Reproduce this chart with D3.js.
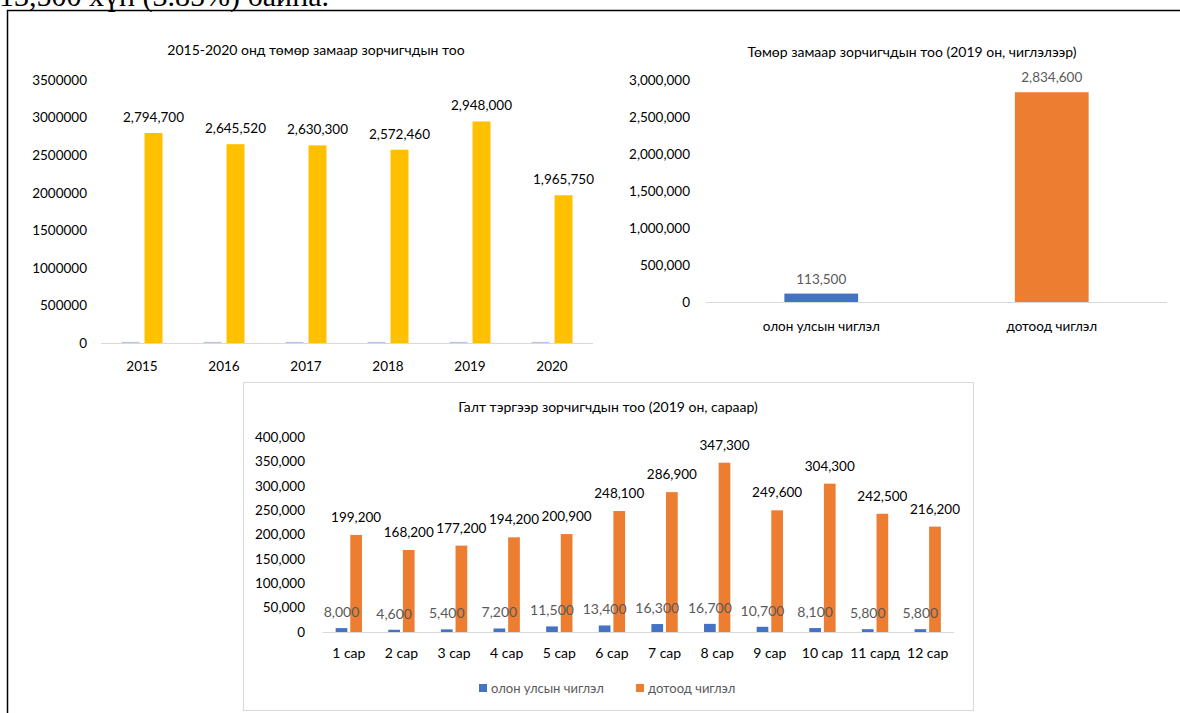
<!DOCTYPE html>
<html>
<head>
<meta charset="utf-8">
<script src="https://cdn.jsdelivr.net/npm/d3@7"></script>
<style>
  body { margin: 0; background: #fff; }
  svg text { font-family: Lato, "Open Sans", sans-serif; }
</style>
</head>
<body>
<div id="page"></div>
<script>
// data
const years = ['2015', '2016', '2017', '2018', '2019', '2020'];
const yearSeries = [2015, 2016, 2017, 2018, 2019, 2020]; // the faint blue series
const yearPassengers = [2794700, 2645520, 2630300, 2572460, 2948000, 1965750];
const yearTicks = [0, 500000, 1000000, 1500000, 2000000, 2500000, 3000000, 3500000];

const directions = ['олон улсын чиглэл', 'дотоод чиглэл'];
const directionValues = [113500, 2834600];
const directionTicks = [0, 500000, 1000000, 1500000, 2000000, 2500000, 3000000];

const months = ['1 сар', '2 сар', '3 сар', '4 сар', '5 сар', '6 сар', '7 сар', '8 сар', '9 сар', '10 сар', '11 сард', '12 сар'];
const intlMonthly = [8000, 4600, 5400, 7200, 11500, 13400, 16300, 16700, 10700, 8100, 5800, 5800];
const domesticMonthly = [199200, 168200, 177200, 194200, 200900, 248100, 286900, 347300, 249600, 304300, 242500, 216200];
const monthTicks = [0, 50000, 100000, 150000, 200000, 250000, 300000, 350000, 400000];
const seriesNames = ['олон улсын чиглэл', 'дотоод чиглэл'];

const blue = '#4472C4';
const orange = '#ED7D31';
const gridGrey = '#D9D9D9';
const labelGrey = '#595959';

const width = 1180;
const height = 713;

const svg = d3.select('#page')
  .append('svg')
  .attr('width', width)
  .attr('height', height);

// text of the document above the frame, cut by the top edge
svg.append('text')
  .attr('x', -1)
  .attr('y', 6)
  .style('font-family', '"Liberation Serif", "Times New Roman", serif')
  .style('font-size', '30px')
  .text('13,500 хүн (3.85%) байна.');

// frame
svg.append('path')
  .attr('d', `M7.5,${height} V10.5 H${width}`)
  .attr('fill', 'none')
  .attr('stroke', '#000')
  .attr('stroke-width', 1.5);

function yAxis(g, y, ticks, fmt, x, size) {
  const ax = g.append('g')
    .attr('transform', `translate(${x},0)`)
    .call(d3.axisLeft(y).tickValues(ticks).tickFormat(fmt).tickSize(0).tickPadding(0));
  ax.select('.domain').remove();
  ax.selectAll('text')
    .style('font-family', 'Lato, sans-serif')
    .style('font-size', size)
    .attr('fill', '#000');
}

function xAxis(g, x, yPos, size) {
  const ax = g.append('g')
    .attr('transform', `translate(0,${yPos})`)
    .call(d3.axisBottom(x).tickSize(0).tickPadding(0));
  ax.select('.domain').remove();
  ax.selectAll('text')
    .attr('dy', '0.35em')
    .style('font-family', 'Lato, sans-serif')
    .style('font-size', size)
    .attr('fill', '#000');
}

function baseline(g, x, y0) {
  g.append('line')
    .attr('x1', x.range()[0])
    .attr('x2', x.range()[1])
    .attr('y1', y0 + 0.5)
    .attr('y2', y0 + 0.5)
    .attr('stroke', gridGrey);
}

// chart 1: 2015-2020
{
  const g = svg.append('g');
  const x = d3.scaleBand().domain(years).range([101, 593]).paddingInner(0.5).paddingOuter(0.25);
  const xs = d3.scaleBand().domain([0, 1]).range([0, x.bandwidth()]).paddingInner(0.22);
  const y = d3.scaleLinear().domain([0, 3500000]).range([343, 80]);

  g.append('text')
    .attr('x', 316).attr('y', 55)
    .attr('text-anchor', 'middle')
    .style('font-size', '14px')
    .text('2015-2020 онд төмөр замаар зорчигчдын тоо');

  yAxis(g, y, yearTicks, d3.format('d'), 87, '13.5px');
  baseline(g, x, y(0));

  g.selectAll('.faint')
    .data(yearSeries)
    .enter().append('rect')
    .attr('x', (d, i) => x(years[i]) + xs(0))
    .attr('y', d => y(d) - 1)
    .attr('width', xs.bandwidth())
    .attr('height', d => y(0) - y(d) + 1)
    .attr('fill', '#B4C7E7');

  g.selectAll('.total')
    .data(yearPassengers)
    .enter().append('rect')
    .attr('x', (d, i) => x(years[i]) + xs(1))
    .attr('y', d => y(d))
    .attr('width', xs.bandwidth())
    .attr('height', d => y(0) - y(d))
    .attr('fill', '#FFC000');

  g.selectAll('.total-label')
    .data(yearPassengers)
    .enter().append('text')
    .attr('x', (d, i) => x(years[i]) + xs(1) + xs.bandwidth() / 2)
    .attr('y', d => y(d) - 11)
    .attr('text-anchor', 'middle')
    .style('font-size', '13.5px')
    .text(d3.format(','));

  xAxis(g, x, 366, '13.5px');
}

// chart 2: 2019 by direction
{
  const g = svg.append('g');
  const x = d3.scaleBand().domain(directions).range([706, 1167]).paddingInner(0.68).paddingOuter(0.34);
  const y = d3.scaleLinear().domain([0, 3000000]).range([302, 80]);
  const colors = [blue, orange];

  g.append('text')
    .attr('x', 912).attr('y', 57)
    .attr('text-anchor', 'middle')
    .style('font-size', '14px')
    .text('Төмөр замаар зорчигчдын тоо (2019 он, чиглэлээр)');

  yAxis(g, y, directionTicks, d3.format(','), 690, '13.5px');

  g.selectAll('.dir')
    .data(directionValues)
    .enter().append('rect')
    .attr('x', (d, i) => x(directions[i]))
    .attr('y', d => y(d))
    .attr('width', x.bandwidth())
    .attr('height', d => y(0) - y(d))
    .attr('fill', (d, i) => colors[i]);

  baseline(g, x, y(0));

  g.selectAll('.dir-label')
    .data(directionValues)
    .enter().append('text')
    .attr('x', (d, i) => x(directions[i]) + x.bandwidth() / 2)
    .attr('y', d => y(d) - 10)
    .attr('text-anchor', 'middle')
    .attr('fill', labelGrey)
    .style('font-size', '13.5px')
    .text(d3.format(','));

  xAxis(g, x, 326, '13.5px');
}

// chart 3: 2019 by month
{
  const g = svg.append('g');

  g.append('rect')
    .attr('x', 243.5).attr('y', 382.5)
    .attr('width', 730).attr('height', 328)
    .attr('fill', '#fff')
    .attr('stroke', gridGrey);

  const x = d3.scaleBand().domain(months).range([322.5, 954]).paddingInner(0.5).paddingOuter(0.25);
  const xs = d3.scaleBand().domain([0, 1]).range([0, x.bandwidth()]).paddingInner(0.2);
  const y = d3.scaleLinear().domain([0, 400000]).range([632, 437]);
  const fmt = d3.format(',');

  g.append('text')
    .attr('x', 608).attr('y', 412)
    .attr('text-anchor', 'middle')
    .style('font-size', '14px')
    .text('Галт тэргээр зорчигчдын тоо (2019 он, сараар)');

  yAxis(g, y, monthTicks, fmt, 305, '13.5px');
  baseline(g, x, y(0));

  g.selectAll('.intl')
    .data(intlMonthly)
    .enter().append('rect')
    .attr('x', (d, i) => x(months[i]) + xs(0))
    .attr('y', d => y(d))
    .attr('width', xs.bandwidth())
    .attr('height', d => y(0) - y(d))
    .attr('fill', blue);

  g.selectAll('.dom')
    .data(domesticMonthly)
    .enter().append('rect')
    .attr('x', (d, i) => x(months[i]) + xs(1))
    .attr('y', d => y(d))
    .attr('width', xs.bandwidth())
    .attr('height', d => y(0) - y(d))
    .attr('fill', orange);

  g.selectAll('.dom-label')
    .data(domesticMonthly)
    .enter().append('text')
    .attr('x', (d, i) => x(months[i]) + xs(1) + xs.bandwidth() / 2)
    .attr('y', d => y(d) - 13)
    .attr('text-anchor', 'middle')
    .style('font-size', '13.5px')
    .text(fmt);

  g.selectAll('.intl-label')
    .data(intlMonthly)
    .enter().append('text')
    .attr('x', (d, i) => x(months[i]) + xs(0) + xs.bandwidth() / 2)
    .attr('y', d => y(d) - 11)
    .attr('text-anchor', 'middle')
    .attr('fill', labelGrey)
    .style('font-size', '14px')
    .text(fmt);

  xAxis(g, x, 653, '14px');

  // legend
  const legendX = [479, 636];
  const legend = g.selectAll('.legend')
    .data(seriesNames)
    .enter().append('g')
    .attr('transform', (d, i) => `translate(${legendX[i]},688)`);
  legend.append('rect')
    .attr('y', -4).attr('width', 8).attr('height', 8)
    .attr('fill', (d, i) => [blue, orange][i]);
  legend.append('text')
    .attr('x', 12).attr('dy', '0.35em')
    .attr('fill', labelGrey)
    .style('font-size', '13px')
    .text(d => d);
}
</script>
</body>
</html>
